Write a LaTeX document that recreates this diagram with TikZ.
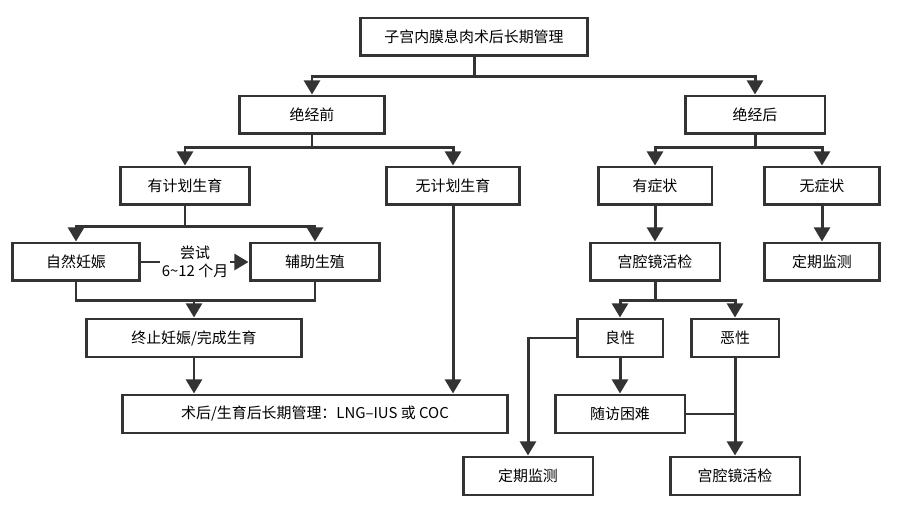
\documentclass[tikz,border=0pt]{standalone}
\usepackage{fontspec}
\newfontfamily\cjk{Noto Sans CJK SC}
\usetikzlibrary{arrows.meta,positioning}
\tikzset{
  basic/.style = {draw=black!80, line width=1.7pt, rectangle, inner sep=0pt,
                  minimum height=0.76cm, font=\cjk\fontsize{8.5}{10}\selectfont},
  box/.style   = {basic, minimum width=#1},
  line/.style  = {draw=black!80, line width=1.7pt},
  arr/.style   = {line, -{Triangle[length=8pt,width=9pt]}}
}
\begin{document}
\begin{tikzpicture}[x=0.02cm, y=-0.02cm]
\useasboundingbox (0,0) rectangle (919,516);

% top
\node[box=4.56cm] (root) at (474,37) {子宫内膜息肉术后长期管理};
\node[box=2.9cm] (pre) at (312,115) {绝经前};
\node[box=2.8cm] (post) at (755,115) {绝经后};

% before menopause
\node[box=2.6cm] (plan) at (185,186) {有计划生育};
\node[box=2.66cm] (noplan) at (453,186) {无计划生育};
\node[box=2.56cm] (nat) at (76,262) {自然妊娠};
\node[box=2.6cm] (art) at (315,262) {辅助生殖};
\node[box=4.32cm] (end) at (194,338) {终止妊娠/完成生育};
\node[box=7.7cm] (long) at (315,414) {术后/生育后长期管理：LNG–IUS 或 COC};

% after menopause
\node[box=2.28cm] (sym) at (655,186) {有症状};
\node[box=2.3cm] (nosym) at (822,186) {无症状};
\node[box=2.6cm] (hys1) at (655,262) {宫腔镜活检};
\node[box=2.3cm] (mon1) at (822,262) {定期监测};
\node[box=1.72cm] (ben) at (620,338) {良性};
\node[box=1.76cm] (mal) at (735,338) {恶性};
\node[box=2.6cm] (diff) at (620,414) {随访困难};
\node[box=2.6cm] (mon2) at (528,476) {定期监测};
\node[box=2.6cm] (hys2) at (735,476) {宫腔镜活检};

% connectors
\draw[line] (root.south) -- ++(0,19) coordinate (r1);
\draw[arr] (r1) -| (pre);
\draw[arr] (r1) -| (post);
\draw[line] (pre.south) -- ++(0,12) coordinate (p1);
\draw[arr] (p1) -| (plan);
\draw[arr] (p1) -| (noplan);
\draw[line] (plan.south) -- ++(0,20) coordinate (p2);
\draw[arr] (p2) -| (nat);
\draw[arr] (p2) -| (art);
\draw[arr] (nat) -- node[fill=white, inner sep=1pt, align=center,
  font=\cjk\fontsize{8.5}{10}\selectfont] {尝试\\6\textasciitilde12 个月} (art);
\draw[line] (nat.south) -- ++(0,18) coordinate (n1) -- (n1 -| art.south) -- (art.south);
\draw[arr] (n1 -| end.north) -- (end);
\draw[arr] (end) -- (long.north -| end);
\draw[arr] (noplan) -- (long.north -| noplan);

\draw[line] (post.south) -- ++(0,12) coordinate (q1);
\draw[arr] (q1) -| (sym);
\draw[arr] (q1) -| (nosym);
\draw[arr] (sym) -- (hys1);
\draw[arr] (nosym) -- (mon1);
\draw[line] (hys1.south) -- ++(0,18) coordinate (q2);
\draw[arr] (q2) -| (ben);
\draw[arr] (q2) -| (mal);
\draw[arr] (ben) -- (diff);
\draw[arr] (ben.west) -| (mon2);
\draw[arr] (mal) -- (hys2);
\draw[line] (diff.east) -- (diff.east -| mal);
\end{tikzpicture}
\end{document}
